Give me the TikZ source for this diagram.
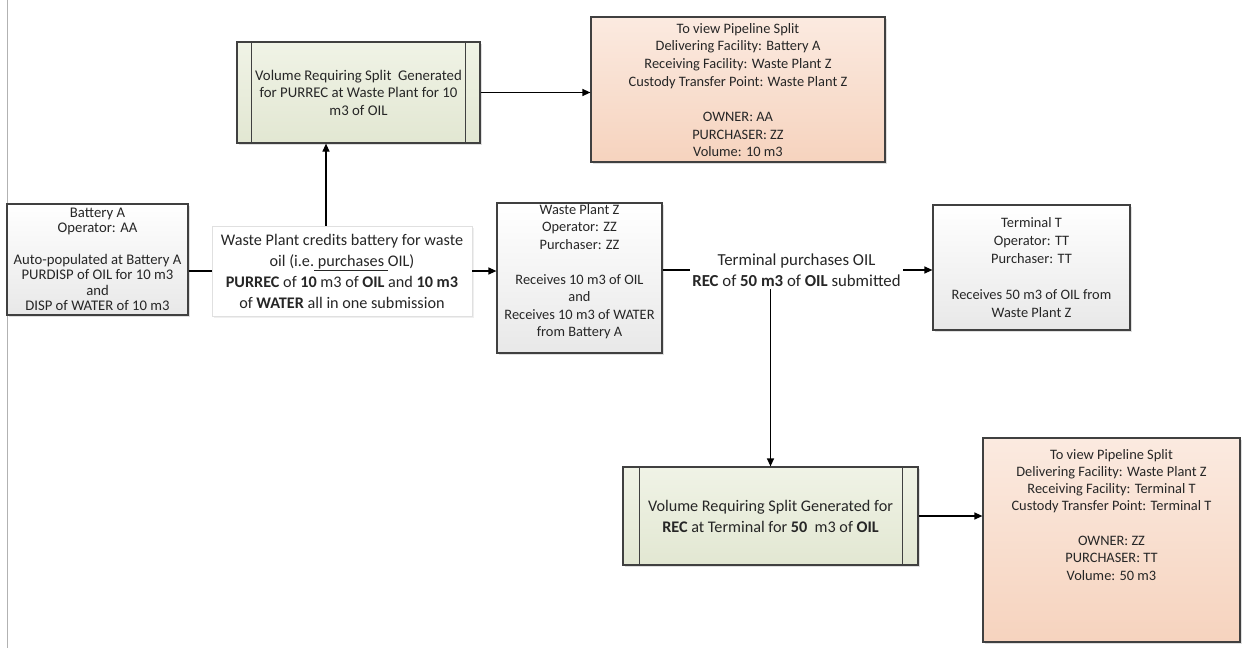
\documentclass[tikz,border=0pt]{standalone}
\usepackage{fontspec}
\setmainfont{Carlito}
\usetikzlibrary{arrows.meta,calc,positioning,shadows}
\definecolor{lijn}{RGB}{64,64,64}
\definecolor{splittop}{RGB}{240,243,230}
\definecolor{splitbottom}{RGB}{226,231,210}
\definecolor{pipetop}{RGB}{251,234,224}
\definecolor{pipebottom}{RGB}{246,211,190}

\begin{document}
\begin{tikzpicture}[->, >={Triangle[length=8pt,width=7pt]}, x=1pt, y=-1pt, line width=1.2pt]
\tikzstyle{facility} = [draw=lijn, top color=white, bottom color=black!9, inner sep=0pt, align=center, text=black!85, drop shadow={shadow xshift=2pt, shadow yshift=-2pt, opacity=0.25}]
\tikzstyle{splitter} = [draw=lijn, top color=splittop, bottom color=splitbottom, inner sep=0pt, align=center, text=black!85, drop shadow={shadow xshift=2pt, shadow yshift=-2pt, opacity=0.25}]
\tikzstyle{pipeview} = [draw=lijn, top color=pipetop, bottom color=pipebottom, inner sep=0pt, drop shadow={shadow xshift=2pt, shadow yshift=-2pt, opacity=0.25}]
\tikzstyle{boxtext} = [inner sep=0pt, align=center, text=black!85, font=\fontsize{14.4}{17.5}\selectfont]
\tikzstyle{remark} = [fill=white, inner sep=2pt, align=center, text=black!85, font=\fontsize{16.2}{21}\selectfont]

\path[use as bounding box, fill=white] (0,0) rectangle (1250,648);
\draw[-, black!30, line width=0.8pt] (7,0) -- (7,648);

\node [facility, minimum width=181pt, minimum height=111pt, font=\fontsize{14.7}{15.6}\selectfont] (battery) at (97.5,259.5) {Battery A\\Operator: AA\\[15.6pt]Auto-populated at Battery A\\PURDISP of OIL for 10 m3\\and\\DISP of WATER of 10 m3};

\node [remark, draw=black!12, line width=0.5pt, minimum width=260pt, minimum height=90pt, drop shadow={shadow xshift=2pt, shadow yshift=-2pt, opacity=0.12}] (credits) at (342,271) {Waste Plant credits battery for waste\\oil (i.e.\underline{ purchases }OIL)\\\textbf{PURREC} of \textbf{10} m3 of \textbf{OIL} and \textbf{10 m3}\\of \textbf{WATER} all in one submission};
\draw[-] (credits.west -| battery.east) -- (credits.west);

\node [facility, minimum width=165pt, minimum height=150pt] (wasteplant) at (579.5,278) {};
\node [boxtext, below=1pt of wasteplant.north] (wasteplanttext) {Waste Plant Z\\Operator: ZZ\\Purchaser: ZZ\\[17.5pt]Receives 10 m3 of OIL\\and\\Receives 10 m3 of WATER\\from Battery A};
\draw (credits.east) -- (credits.east -| wasteplant.west);

\node [splitter, minimum width=243pt, minimum height=101pt, font=\fontsize{14.8}{17.5}\selectfont] (green1) at (358.5,92.5) {Volume Requiring Split\ \ Generated\\for PURREC at Waste Plant for 10\\m3 of OIL};
\draw[-, lijn] ([xshift=15pt]green1.north west) -- ([xshift=15pt]green1.south west);
\draw[-, lijn] ([xshift=-15pt]green1.north east) -- ([xshift=-15pt]green1.south east);
\coordinate (creditsup) at ([xshift=-16pt]credits.north);
\draw (creditsup) -- (creditsup |- green1.south);

\node [pipeview, minimum width=294pt, minimum height=145pt] (pipeview1) at (738,89.5) {};
\node [boxtext, below=6pt of pipeview1.north, font=\fontsize{14.4}{17.7}\selectfont] (pipeview1text) {To view Pipeline Split\\Delivering Facility: Battery A\\Receiving Facility: Waste Plant Z\\Custody Transfer Point: Waste Plant Z\\[17.7pt]OWNER: AA\\PURCHASER: ZZ\\Volume: 10 m3};
\draw (green1.east) -- (green1.east -| pipeview1.west);

\node [remark, font=\fontsize{16.8}{21}\selectfont] (termlabel) at (796.5,270) {Terminal purchases OIL\\\textbf{REC} of \textbf{50 m3} of \textbf{OIL} submitted};
\draw[-] (termlabel.west -| wasteplant.east) -- (termlabel.west);

\node [facility, minimum width=197pt, minimum height=125pt, font=\fontsize{14.4}{18}\selectfont] (terminal) at (1031.5,267.5) {Terminal T\\Operator: TT\\Purchaser: TT\\[18pt]Receives 50 m3 of OIL from\\Waste Plant Z};
\draw (termlabel.east) -- (termlabel.east -| terminal.west);

\node [splitter, minimum width=295pt, minimum height=98pt, font=\fontsize{16.2}{21}\selectfont] (green2) at (770.5,516) {Volume Requiring Split Generated for\\\textbf{REC} at Terminal for \textbf{50}\ \ m3 of \textbf{OIL}};
\draw[-, lijn] ([xshift=17pt]green2.north west) -- ([xshift=17pt]green2.south west);
\draw[-, lijn] ([xshift=-16pt]green2.north east) -- ([xshift=-16pt]green2.south east);
\draw (green2.north |- termlabel.south) -- (green2.north);

\node [pipeview, minimum width=257pt, minimum height=204pt] (pipeview2) at (1111.5,540) {};
\node [boxtext, below=11pt of pipeview2.north, font=\fontsize{14.4}{17.3}\selectfont] (pipeview2text) {To view Pipeline Split\\Delivering Facility: Waste Plant Z\\Receiving Facility: Terminal T\\Custody Transfer Point: Terminal T\\[17.3pt]OWNER: ZZ\\PURCHASER: TT\\Volume: 50 m3};
\draw (green2.east) -- (green2.east -| pipeview2.west);

\end{tikzpicture}
\end{document}
